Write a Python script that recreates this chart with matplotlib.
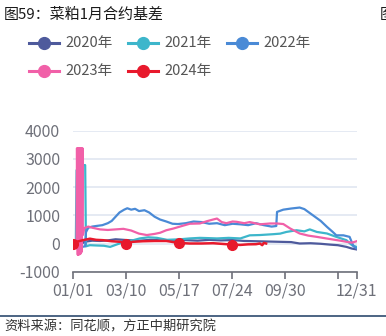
import matplotlib
matplotlib.use('Agg')
import matplotlib.pyplot as plt
from matplotlib.lines import Line2D

plt.rcParams['font.family'] = ['Noto Sans CJK SC', 'DejaVu Sans']

# データ (日数: 01/01 = 0)
labels = ['2020年', '2021年', '2022年', '2023年', '2024年']
colors = ['#4e5a9c', '#3db6cb', '#4a8ad6', '#f160a8', '#e8192c']

days_2020 = [0, 8, 15, 25, 35, 45, 55, 70, 85, 100, 115, 130, 145, 160, 175, 190, 205, 220,
             235, 250, 265, 280, 291, 305, 318, 330, 340, 351, 358, 364]
vals_2020 = [-50, -80, 60, 100, 90, 110, 150, 120, 100, 130, 110, 90, 120, 100, 130, 110, 120, 90,
             80, 70, 60, 50, 0, 10, -10, -40, -60, -120, -180, -210]

days_2021 = [0, 4, 5, 9, 13, 16, 17, 22, 30, 40, 48, 58, 67, 78, 86, 97, 108, 121, 138, 150, 163,
             175, 185, 200, 215, 227, 240, 257, 266, 274, 287, 297, 304, 313, 326, 338, 351, 358, 364]
vals_2021 = [-50, 0, 2600, 2650, 2780, 2780, -100, -60, -70, -80, -120, -20, 60, 120, 180, 220, 200,
             130, 150, 180, 200, 190, 180, 200, 180, 290, 300, 330, 350, 410, 470, 430, 500, 410, 355,
             235, 117, -60, -120]

days_2022 = [0, 5, 12, 16, 17, 20, 25, 30, 38, 45, 50, 55, 60, 66, 70, 75, 80, 85, 92, 98, 105, 112,
             120, 128, 135, 145, 155, 165, 175, 185, 195, 205, 215, 225, 235, 245, 255, 261, 262, 270,
             280, 291, 297, 308, 318, 326, 333, 338, 347, 355, 360, 364]
vals_2022 = [-100, -150, -120, -100, 400, 560, 600, 620, 650, 720, 800, 950, 1100, 1200, 1250, 1200,
             1230, 1150, 1180, 1100, 950, 850, 780, 700, 690, 720, 780, 760, 700, 720, 650, 700, 680,
             650, 720, 650, 600, 620, 1120, 1200, 1240, 1275, 1220, 1000, 800, 590, 420, 290, 290,
             235, -100, -170]

days_2023 = [0, 5, 5.5, 6.5, 7, 7.5, 8.5, 9, 9.5, 10.5, 11, 11.5, 12.5, 13, 15, 20, 25, 35, 45, 55,
             65, 75, 85, 95, 105, 112, 120, 129, 140, 150, 163, 172, 180, 185, 191, 197, 205, 210, 220,
             227, 240, 253, 262, 270, 279, 291, 302, 313, 325, 334, 343, 351, 358, 364]
vals_2023 = [50, 100, 3380, -400, 3380, -400, 3380, -380, 3380, -350, 3380, -300, 3380, 300, 550, 600,
             560, 500, 480, 500, 520, 460, 350, 300, 340, 380, 470, 530, 620, 700, 710, 790, 850, 885,
             760, 720, 780, 770, 720, 760, 680, 710, 710, 690, 530, 355, 280, 235, 180, 140, 100, 60,
             30, 80]

days_2024 = [0, 5, 13, 22, 30, 39, 50, 61, 68, 77, 90, 105, 120, 136, 150, 165, 180, 195, 204, 215,
             225, 235, 240, 243, 245, 248]
vals_2024 = [0, 60, 117, 170, 130, 117, 80, 60, 0, 60, 80, 90, 90, 20, 0, 0, 10, -20, -40, -50,
             -30, -25, 0, -60, 20, 0]
marker_days_2024 = [0, 68, 136, 204]

tick_days = [0, 68, 136, 204, 272, 340, 364]
tick_labels = ['01/01', '03/10', '05/17', '07/24', '09/30', '', '12/31']
y_ticks = [-1000, 0, 1000, 2000, 3000, 4000]

W, H = 386, 336
fig = plt.figure(figsize=(W / 100, H / 100), dpi=100)


def fx(px):
    return px / W


def fy(py):
    return 1 - py / H


ax = fig.add_axes([fx(72.7), fy(271.7), fx(356.6) - fx(72.7), fy(130.7) - fy(271.7)])

series = [(days_2020, vals_2020), (days_2021, vals_2021), (days_2022, vals_2022),
          (days_2023, vals_2023), (days_2024, vals_2024)]
for i, (d, v) in enumerate(series):
    if i == 4:
        ax.plot(d, v, color=colors[i], lw=1.8, marker='o', markersize=7,
                markevery=[d.index(m) for m in marker_days_2024], zorder=3 + i)
    else:
        ax.plot(d, v, color=colors[i], lw=1.6, zorder=3 + i)

ax.set_xlim(0, 364)
ax.set_ylim(-1000, 4000)
ax.set_yticks(y_ticks)
ax.set_yticklabels([str(t) for t in y_ticks])
ax.set_xticks(tick_days)
ax.set_xticklabels(tick_labels)
for s in ['top', 'right', 'left']:
    ax.spines[s].set_visible(False)
ax.spines['bottom'].set_color('#6e7079')
ax.spines['bottom'].set_linewidth(1.2)
ax.tick_params(axis='x', colors='#6e7079', length=5, width=1.2, labelsize=11.5, pad=3,
               labelcolor='#6e7079')
ax.tick_params(axis='y', length=0, labelsize=11.5, pad=9, labelcolor='#6e7079')
ax.grid(axis='y', color='#e0e6f1', lw=1.2)
ax.set_axisbelow(True)

# タイトル
fig.text(fx(4), fy(15), '图59：菜粕1月合约基差', fontsize=10.8, color='#1a1a1a', va='center', ha='left',
         fontweight='medium')
fig.text(fx(380), fy(15), '图', fontsize=10.8, color='#1a1a1a', va='center', ha='left')

# 凡例
leg_pos = [(29, 43), (128, 43), (227, 43), (29, 71), (128, 71)]
for i, (lx, ly) in enumerate(leg_pos):
    fig.add_artist(Line2D([fx(lx), fx(lx + 30)], [fy(ly), fy(ly)], color=colors[i], lw=2.2,
                          transform=fig.transFigure))
    fig.add_artist(Line2D([fx(lx + 15)], [fy(ly)], color=colors[i], marker='o', markersize=8.5,
                          transform=fig.transFigure))
    fig.text(fx(lx + 36), fy(ly), labels[i], fontsize=10.5, color='#555555', va='center', ha='left')

# 出典
fig.add_artist(Line2D([0, 1], [fy(316), fy(316)], color='#2e4a6e', lw=1.2, transform=fig.transFigure))
fig.text(fx(4), fy(327), '资料来源：同花顺，方正中期研究院', fontsize=9.5, color='#333333',
         va='center', ha='left', style='italic')

fig.savefig('out.png', dpi=100)
